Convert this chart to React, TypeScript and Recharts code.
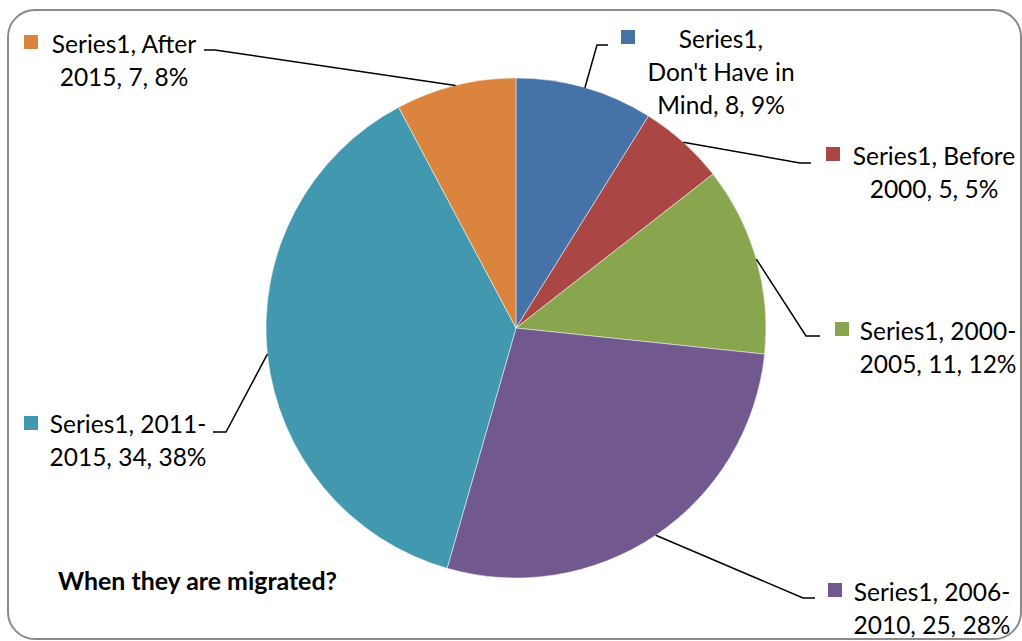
import React from 'react';
import { PieChart, Pie, Cell } from 'recharts';

// Chart data
const seriesName = 'Series1';
const categories = ["Don't Have in Mind", 'Before 2000', '2000-2005', '2006-2010', '2011-2015', 'After 2015'];
const counts = [8, 5, 11, 25, 34, 7];
const shares = [9, 5, 12, 28, 38, 8];
const colors = ['#4572A7', '#AA4643', '#89A54E', '#71588F', '#4198AF', '#DB843D'];

const chartTitle = 'When they are migrated?';

// label placement (elbow of leader line, end of the short horizontal, legend key, text)
const labelLayout = [
  { ex: 597, ey: 45, hx: 608, kx: 621, ky: 30, tx: 721, ty: 38, wrap: 13 },
  { ex: 800, ey: 163, hx: 811, kx: 826, ky: 147, tx: 934, ty: 155, wrap: 15 },
  { ex: 806, ey: 336, hx: 820, kx: 835, ky: 322, tx: 938, ty: 330, wrap: 14 },
  { ex: 803, ey: 598, hx: 815, kx: 828, ky: 583, tx: 932, ty: 591, wrap: 14 },
  { ex: 226, ey: 432, hx: 213, kx: 24, ky: 416, tx: 128, ty: 423, wrap: 14 },
  { ex: 215, ey: 50, hx: 204, kx: 24, ky: 35, tx: 124, ty: 43, wrap: 14 },
];

const FONT = 'Lato, "Open Sans", sans-serif';
const RADIAN = Math.PI / 180;

const data = categories.map((name, i) => ({ name, value: counts[i], share: shares[i] }));

// greedy wrap, breaking after spaces or hyphens
const wrapText = (text: string, max: number) => {
  const tokens = text.match(/[^\s-]+-|[^\s-]+\s*|\s+/g) || [text];
  const lines: string[] = [];
  let cur = '';
  tokens.forEach(tok => {
    if (cur && (cur + tok).trimEnd().length > max) {
      lines.push(cur.trimEnd());
      cur = tok;
    } else {
      cur += tok;
    }
  });
  if (cur) lines.push(cur.trimEnd());
  return lines;
};

const renderLabel = (props: any) => {
  const { cx, cy, midAngle, outerRadius, index } = props;
  const d = data[index];
  const lay = labelLayout[index];
  const sx = cx + outerRadius * Math.cos(-midAngle * RADIAN);
  const sy = cy + outerRadius * Math.sin(-midAngle * RADIAN);
  const lines = wrapText(`${seriesName}, ${d.name}, ${d.value}, ${d.share}%`, lay.wrap);
  return (
    <g key={`lbl-${index}`}>
      <polyline
        points={`${sx},${sy} ${lay.ex},${lay.ey} ${lay.hx},${lay.ey}`}
        fill="none"
        stroke="#000"
        strokeWidth={1.5}
      />
      <rect x={lay.kx} y={lay.ky} width={14} height={14} fill={colors[index]} />
      <text
        x={lay.tx}
        y={lay.ty}
        textAnchor="middle"
        fontFamily={FONT}
        fontSize={24.5}
        fill="#000"
      >
        {lines.map((ln, i) => (
          <tspan key={i} x={lay.tx} y={lay.ty + i * 33} dominantBaseline="central">
            {ln}
          </tspan>
        ))}
      </text>
    </g>
  );
};

export default function App() {
  return (
    <div style={{ position: 'absolute', left: 0, top: 0, width: 1022, height: 641, background: '#fff' }}>
      <div
        style={{
          position: 'absolute',
          left: 7,
          top: 9,
          width: 1011,
          height: 627,
          border: '2px solid #8a8a8a',
          borderRadius: 28,
        }}
      />
      <PieChart
        width={1022}
        height={641}
        margin={{ top: 0, right: 0, bottom: 0, left: 0 }}
        style={{ position: 'absolute', left: 0, top: 0 }}
      >
        <Pie
          data={data}
          dataKey="value"
          nameKey="name"
          cx={516}
          cy={328}
          outerRadius={250}
          startAngle={90}
          endAngle={-270}
          stroke="#fff"
          strokeWidth={0.5}
          label={renderLabel}
          labelLine={false}
          isAnimationActive={false}
        >
          {data.map((entry, index) => (
            <Cell key={`cell-${index}`} fill={colors[index]} />
          ))}
        </Pie>
      </PieChart>
      <div
        style={{
          position: 'absolute',
          left: 58,
          top: 566,
          fontFamily: FONT,
          fontWeight: 'bold',
          fontSize: 24.9,
          lineHeight: '28px',
          whiteSpace: 'nowrap',
        }}
      >
        {chartTitle}
      </div>
    </div>
  );
}
